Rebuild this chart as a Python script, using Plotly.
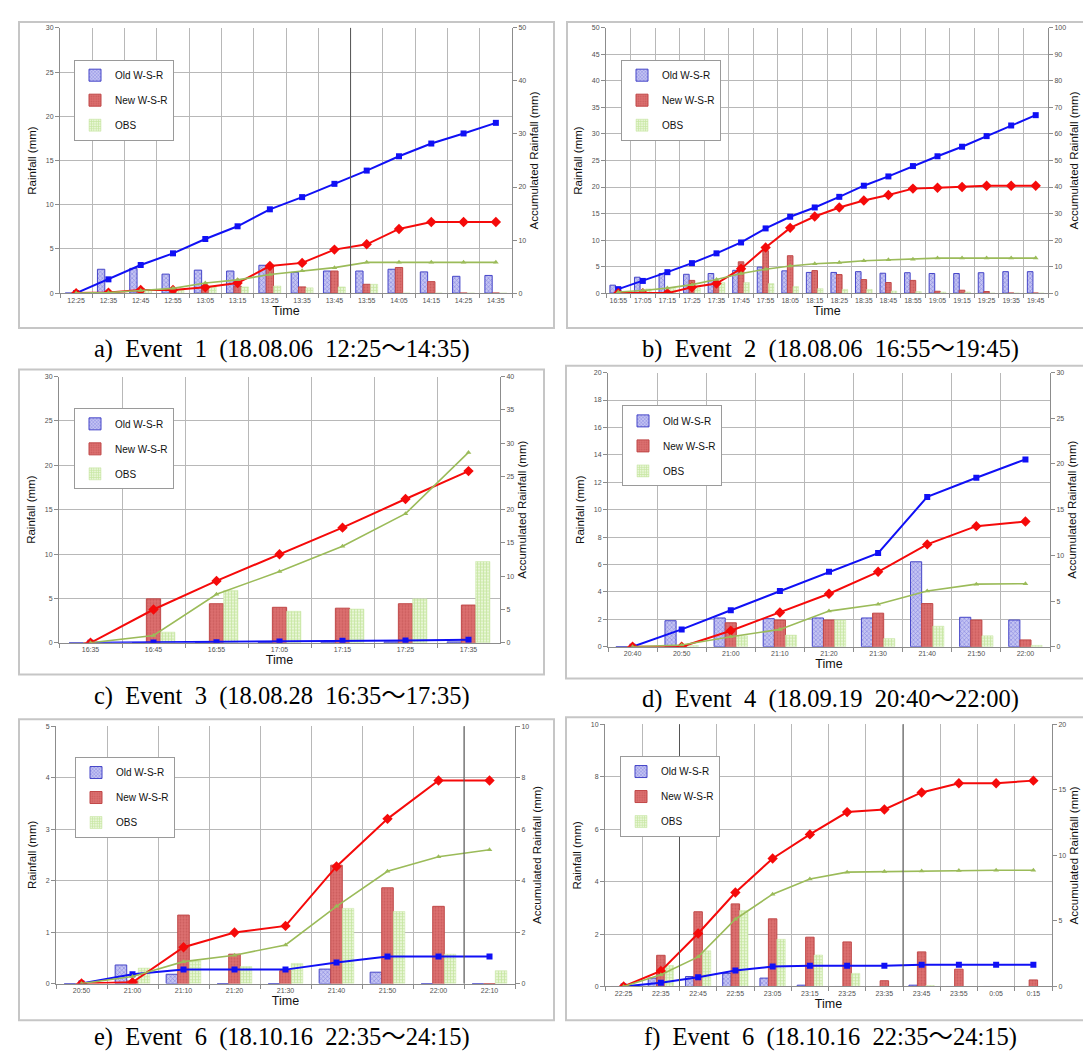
import plotly.graph_objects as go

W, H = 1091, 1056

# ---------------- data ----------------
# a) Event 1
a_time = ["12:25", "12:35", "12:45", "12:55", "13:05", "13:15", "13:25", "13:35", "13:45", "13:55", "14:05", "14:15", "14:25", "14:35"]
a_old = [0, 2.7, 2.8, 2.15, 2.6, 2.5, 3.15, 2.35, 2.5, 2.5, 2.7, 2.4, 1.9, 2.0]
a_new = [0, 0.1, 0.5, 0.1, 0.5, 0.8, 3.1, 0.7, 2.5, 1.0, 2.9, 1.3, 0, 0]
a_obs = [0, 0.1, 0.4, 0.4, 0.8, 0.7, 0.8, 0.6, 0.7, 1.0, 0, 0, 0, 0]
a_old_acc = [0, 2.6, 5.3, 7.5, 10.2, 12.6, 15.8, 18.1, 20.6, 23.1, 25.8, 28.2, 30.1, 32.1]
a_new_acc = [0, 0.1, 0.6, 0.6, 1.1, 1.9, 5.1, 5.7, 8.2, 9.2, 12.1, 13.4, 13.4, 13.4]
a_obs_acc = [0, 0.1, 0.5, 0.9, 1.9, 2.5, 3.5, 4.2, 4.8, 5.8, 5.8, 5.8, 5.8, 5.8]

# b) Event 2
b_time = ["16:55", "17:05", "17:15", "17:25", "17:35", "17:45", "17:55", "18:05", "18:15", "18:25", "18:35", "18:45", "18:55", "19:05", "19:15", "19:25", "19:35", "19:45"]
b_old = [1.5, 3.0, 3.7, 3.55, 3.7, 4.3, 4.9, 4.2, 3.9, 3.9, 4.05, 3.75, 3.85, 3.7, 3.7, 3.85, 4.05, 4.05]
b_new = [0.5, 0, 0, 2.4, 1.2, 5.9, 8.0, 7.05, 4.25, 3.5, 2.55, 2.0, 2.4, 0.35, 0.55, 0.3, 0, 0]
b_obs = [0.1, 0.8, 0.9, 1.0, 2.0, 2.0, 1.8, 1.25, 0.85, 0.7, 0.7, 0.4, 0.3, 0.2, 0.2, 0, 0, 0]
b_old_acc = [1.5, 4.6, 7.9, 11.3, 15.0, 19.1, 24.4, 28.8, 32.3, 36.3, 40.5, 44.0, 47.9, 51.6, 55.2, 59.2, 63.2, 67.1]
b_new_acc = [0, 0, 0, 2.2, 3.6, 9.2, 17.2, 24.6, 28.9, 32.3, 34.9, 37.0, 39.4, 39.7, 40.0, 40.5, 40.5, 40.5]
b_obs_acc = [0.4, 1.0, 1.9, 3.2, 5.1, 7.4, 9.0, 10.2, 11.1, 11.5, 12.2, 12.6, 12.8, 13.2, 13.2, 13.2, 13.2, 13.2]

# c) Event 3
c_time = ["16:35", "16:45", "16:55", "17:05", "17:15", "17:25", "17:35"]
c_old = [0, 0, 0, 0.05, 0.1, 0.1, 0.1]
c_new = [0, 4.95, 4.4, 4.0, 3.9, 4.4, 4.25]
c_obs = [0, 1.2, 5.9, 3.55, 3.8, 4.95, 9.15]
c_old_acc = [0, 0.05, 0.1, 0.2, 0.3, 0.35, 0.45]
c_new_acc = [0, 5.0, 9.3, 13.3, 17.3, 21.6, 25.8]
c_obs_acc = [0, 1.1, 7.3, 10.7, 14.5, 19.4, 28.6]

# d) Event 4
d_time = ["20:40", "20:50", "21:00", "21:10", "21:20", "21:30", "21:40", "21:50", "22:00"]
d_old = [0, 1.9, 2.1, 2.05, 2.1, 2.1, 6.2, 2.15, 1.95]
d_new = [0, 0, 1.75, 1.95, 1.95, 2.45, 3.15, 1.95, 0.5]
d_obs = [0, 0.1, 0.8, 0.85, 1.95, 0.6, 1.5, 0.8, 0.1]
d_old_acc = [0, 1.9, 4.0, 6.1, 8.2, 10.25, 16.4, 18.5, 20.5]
d_new_acc = [0, 0, 1.75, 3.75, 5.8, 8.2, 11.2, 13.2, 13.7]
d_obs_acc = [0, 0.2, 1.1, 1.9, 3.9, 4.65, 6.1, 6.85, 6.9]

# e) Event 6
e_time = ["20:50", "21:00", "21:10", "21:20", "21:30", "21:40", "21:50", "22:00", "22:10"]
e_old = [0, 0.36, 0.18, 0, 0, 0.28, 0.22, 0, 0]
e_new = [0, 0.05, 1.33, 0.57, 0.25, 2.3, 1.86, 1.5, 0]
e_obs = [0, 0.3, 0.44, 0.33, 0.39, 1.46, 1.4, 0.57, 0.25]
e_old_acc = [0, 0.36, 0.54, 0.54, 0.54, 0.82, 1.05, 1.05, 1.05]
e_new_acc = [0, 0.05, 1.41, 1.98, 2.24, 4.55, 6.4, 7.89, 7.89]
e_obs_acc = [0, 0.27, 0.85, 1.1, 1.5, 3.0, 4.36, 4.93, 5.2]

# f) Event 6
f_time = ["22:25", "22:35", "22:45", "22:55", "23:05", "23:15", "23:25", "23:35", "23:45", "23:55", "0:05", "0:15"]
f_old = [0, 0.32, 0.38, 0.5, 0.32, 0.05, 0, 0, 0.05, 0, 0, 0]
f_new = [0, 1.19, 2.85, 3.15, 2.58, 1.88, 1.7, 0.22, 1.32, 0.66, 0, 0.25]
f_obs = [0, 0.8, 1.36, 2.9, 1.8, 1.2, 0.5, 0, 0.04, 0, 0, 0]
f_old_acc = [0, 0.28, 0.71, 1.22, 1.52, 1.58, 1.58, 1.58, 1.65, 1.65, 1.65, 1.65]
f_new_acc = [0, 1.19, 4.04, 7.17, 9.76, 11.6, 13.3, 13.5, 14.8, 15.5, 15.5, 15.7]
f_obs_acc = [0, 0.89, 2.26, 5.13, 7.04, 8.2, 8.72, 8.77, 8.8, 8.85, 8.87, 8.87]

captions = [
    "a)  Event  1  (18.08.06  12:25～14:35)",
    "b)  Event  2  (18.08.06  16:55～19:45)",
    "c)  Event  3  (18.08.28  16:35～17:35)",
    "d)  Event  4  (18.09.19  20:40～22:00)",
    "e)  Event  6  (18.10.16  22:35～24:15)",
    "f)  Event  6  (18.10.16  22:35～24:15)",
]
series_names = ["Old W-S-R", "New W-S-R", "OBS"]

# ---------------- layout geometry (pixels) ----------------
panels = [
    dict(t=a_time, bars=(a_old, a_new, a_obs), acc=(a_old_acc, a_new_acc, a_obs_acc),
         lmax=30, ldt=5, rmax=50, rdt=10, plot=(52, 504, 16, 283), frame=(11, 546, 10, 318),
         leg=(66, 48), cap=(274, 339), dark=[8.5]),
    dict(t=b_time, bars=(b_old, b_new, b_obs), acc=(b_old_acc, b_new_acc, b_obs_acc),
         lmax=50, ldt=5, rmax=100, rdt=10, plot=(598, 1040, 16, 283), frame=(559, 1081, 10, 318),
         leg=(613, 48), cap=(822, 339), dark=[]),
    dict(t=c_time, bars=(c_old, c_new, c_obs), acc=(c_old_acc, c_new_acc, c_obs_acc),
         lmax=30, ldt=5, rmax=40, rdt=5, plot=(51, 492, 367, 635), frame=(11, 536, 360, 667),
         leg=(66, 399), cap=(274, 689), dark=[]),
    dict(t=d_time, bars=(d_old, d_new, d_obs), acc=(d_old_acc, d_new_acc, d_obs_acc),
         lmax=20, ldt=2, rmax=30, rdt=5, plot=(600, 1042, 363, 639), frame=(558, 1084, 356, 671),
         leg=(614, 396), cap=(822, 692), dark=[]),
    dict(t=e_time, bars=(e_old, e_new, e_obs), acc=(e_old_acc, e_new_acc, e_obs_acc),
         lmax=5, ldt=1, rmax=10, rdt=2, plot=(48, 507, 719, 978), frame=(11, 546, 712, 1015),
         leg=(67, 750), cap=(274, 1032), dark=[7.5]),
    dict(t=f_time, bars=(f_old, f_new, f_obs), acc=(f_old_acc, f_new_acc, f_obs_acc),
         lmax=10, ldt=2, rmax=20, rdt=5, plot=(597, 1044, 717, 981), frame=(558, 1085, 710, 1015),
         leg=(612, 749), cap=(822, 1032), dark=[1.5, 7.5]),
]

bar_styles = [
    dict(color="#b9b9ee", pattern=dict(shape="x", fgcolor="#4a4ad0", bgcolor="#c4c4f2", size=3, solidity=0.35),
         line=dict(color="#4545c8", width=1)),
    dict(color="#d66565", pattern=dict(shape=".", fgcolor="#b84a4a", bgcolor="#dc6f6f", size=3, solidity=0.3),
         line=dict(color="#c04848", width=1)),
    dict(color="#d9f0bd", pattern=dict(shape="+", fgcolor="#a3d66a", bgcolor="#e8f6d6", size=3, solidity=0.45),
         line=dict(color="#c8e6a4", width=0.5)),
]
line_styles = [
    dict(color="#1010f5", width=2, marker=dict(symbol="square", size=6)),
    dict(color="#f50a0a", width=2, marker=dict(symbol="diamond", size=8)),
    dict(color="#9bbb59", width=1.6, marker=dict(symbol="triangle-up", size=5)),
]

def px2x(px):
    return px / W

def px2y(py):
    return 1 - py / H

fig = go.Figure()
shapes = []
annotations = []
layout = dict(width=W, height=H, margin=dict(l=0, r=0, t=0, b=0), autosize=False,
              paper_bgcolor="white", plot_bgcolor="white", barmode="group",
              bargap=0.32, bargroupgap=0.0, font=dict(family="Liberation Sans, Arial, sans-serif"))

tickfont = dict(size=7, color="#505050", family="Liberation Sans, Arial, sans-serif")
titlefont = dict(size=11.5, color="#111", family="Liberation Sans, Arial, sans-serif")
gridc = "#b8b8b8"
axc = "#8c8c8c"

for k, p in enumerate(panels):
    xn = "" if k == 0 else str(k + 1)
    yl = str(2 * k + 1) if k > 0 else ""
    yr = str(2 * k + 2)
    xid, ylid, yrid = "x" + xn, "y" + yl, "y" + yr
    legname = "legend" if k == 0 else f"legend{k + 1}"
    x0, x1, y0, y1 = p["plot"]
    n = len(p["t"])

    for i in range(3):
        st = bar_styles[i]
        fig.add_trace(go.Bar(
            x=p["t"], y=p["bars"][i], name=series_names[i], xaxis=xid, yaxis=ylid,
            offsetgroup=str(i), legend=legname, legendgroup=f"{k}-{i}",
            marker=dict(color=st["color"], pattern=st["pattern"], line=st["line"]),
            showlegend=True, hoverinfo="skip"))
    for i in range(3):
        ls = line_styles[i]
        fig.add_trace(go.Scatter(
            x=p["t"], y=p["acc"][i], mode="lines+markers", xaxis=xid, yaxis=yrid,
            line=dict(color=ls["color"], width=ls["width"]),
            marker=dict(color=ls["color"], symbol=ls["marker"]["symbol"], size=ls["marker"]["size"]),
            showlegend=False, hoverinfo="skip"))

    layout["xaxis" + xn] = dict(
        domain=[px2x(x0), px2x(x1)], anchor=ylid, type="category",
        categoryorder="array", categoryarray=p["t"], range=[-0.5, n - 0.5],
        tickson="boundaries", ticks="outside", ticklen=4, tickcolor=axc, tickangle=0,
        showgrid=True, gridcolor=gridc, gridwidth=1, showline=True, linecolor=axc, linewidth=1,
        tickfont=tickfont, title=dict(text="Time", font=dict(size=12.5, color="#111"), standoff=3),
        fixedrange=True)
    layout["yaxis" + yl] = dict(
        domain=[px2y(y1), px2y(y0)], anchor=xid, range=[0, p["lmax"]], dtick=p["ldt"], tick0=0,
        showgrid=True, gridcolor=gridc, gridwidth=1, zeroline=False, showline=True, linecolor=axc,
        ticks="outside", ticklen=4, tickcolor=axc, tickfont=tickfont,
        title=dict(text="Rainfall (mm)", font=titlefont, standoff=6), fixedrange=True)
    layout["yaxis" + yr] = dict(
        overlaying=ylid, anchor=xid, side="right", range=[0, p["rmax"]], dtick=p["rdt"], tick0=0,
        showgrid=False, zeroline=False, showline=True, linecolor=axc,
        ticks="outside", ticklen=4, tickcolor=axc, tickfont=tickfont,
        title=dict(text="Accumulated Rainfall (mm)", font=titlefont, standoff=4), fixedrange=True)

    lx, ly = p["leg"]
    layout[legname] = dict(
        x=px2x(lx), y=px2y(ly), xanchor="left", yanchor="top", xref="paper", yref="paper",
        bgcolor="white", bordercolor="#9a9a9a", borderwidth=1,
        font=dict(size=10, color="#111", family="Liberation Sans, Arial, sans-serif"),
        tracegroupgap=6, itemwidth=30, traceorder="grouped")

    fx0, fx1, fy0, fy1 = p["frame"]
    shapes.append(dict(type="rect", xref="paper", yref="paper",
                       x0=px2x(fx0), x1=px2x(fx1), y0=px2y(fy1), y1=px2y(fy0),
                       line=dict(color="#c6c6c6", width=2), layer="below"))
    for dx in p["dark"]:
        shapes.append(dict(type="line", xref=xid, yref=ylid + " domain",
                           x0=dx, x1=dx, y0=0, y1=1, line=dict(color="#555555", width=1)))

    cx, cy = p["cap"]
    annotations.append(dict(text=captions[k].replace("  ", "\u00a0\u00a0"), xref="paper", yref="paper",
                            x=px2x(cx), y=px2y(cy),
                            xanchor="center", yanchor="middle", showarrow=False,
                            font=dict(size=24.5, color="#000",
                                      family="Liberation Serif, Times New Roman, Noto Sans CJK KR, serif")))

layout["shapes"] = shapes
layout["annotations"] = annotations
fig.update_layout(**layout)
fig.write_html("out.html")
